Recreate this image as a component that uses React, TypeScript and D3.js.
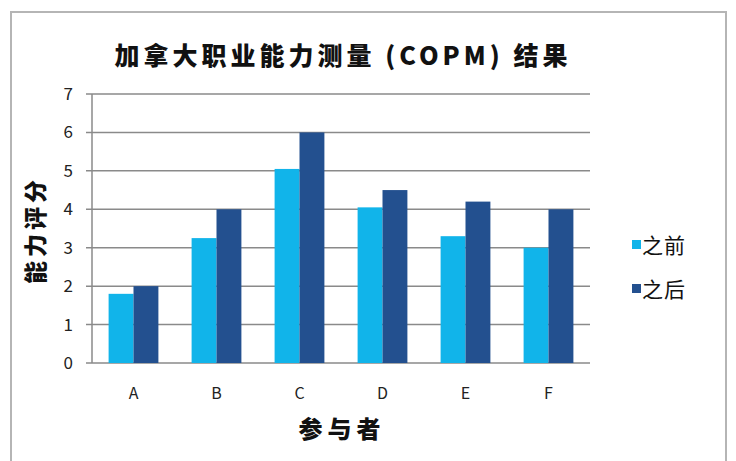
import React from "react";
import * as d3 from "d3";

const categories = ["A", "B", "C", "D", "E", "F"];
const seriesNames = ["之前", "之后"];
const before = [1.8, 3.25, 5.05, 4.05, 3.3, 3.0];
const after = [2.0, 4.0, 6.0, 4.5, 4.2, 4.0];
const yTicks = [0, 1, 2, 3, 4, 5, 6, 7];
const colors = ["#11b4ea", "#23508f"];

export default function App() {
  const W = 736, H = 461;
  const left = 92, right = 590, top = 94, bottom = 363;
  const x = d3.scaleBand<string>().domain(categories).range([left, right]).paddingInner(0.4).paddingOuter(0.2);
  const xs = d3.scaleBand<string>().domain(seriesNames).range([0, x.bandwidth()]);
  const y = d3.scaleLinear().domain([0, 7]).range([bottom, top]);
  const font = "'Noto Sans CJK SC', 'Noto Sans', sans-serif";
  const series = [before, after];
  return (
    <svg width={W} height={H} style={{ position: "absolute", left: 0, top: 0 }} fontFamily={font}>
      <rect x={0} y={0} width={W} height={H} fill="#fff" />
      <rect x={11} y={12} width={715} height={460} fill="#fff" stroke="#b5b5b5" strokeWidth={2} />
      <text x={343} y={65} textAnchor="middle" fontSize={25} fontWeight="900" letterSpacing={4} fill="#111">加拿大职业能力测量 (COPM) 结果</text>
      {yTicks.map((t) => (
        <g key={t}>
          <line x1={left - 6} x2={right} y1={y(t)} y2={y(t)} stroke="#8a8a8a" strokeWidth={1.5} />
          <text x={73} y={y(t) + 6} textAnchor="end" fontSize={17} fill="#222">{t}</text>
        </g>
      ))}
      <line x1={left} x2={left} y1={top} y2={bottom} stroke="#8a8a8a" strokeWidth={1.5} />
      {categories.map((c, i) => (
        <g key={c}>
          {series.map((s, j) => (
            <rect key={j} x={(x(c) as number) + (xs(seriesNames[j]) as number)} y={y(s[i])} width={xs.bandwidth()} height={bottom - y(s[i])} fill={colors[j]} />
          ))}
          <text x={(x(c) as number) + x.bandwidth() / 2} y={399} textAnchor="middle" fontSize={16} fill="#222">{c}</text>
        </g>
      ))}
      <text x={342} y={438} textAnchor="middle" fontSize={24} fontWeight="900" letterSpacing={5} fill="#111">参与者</text>
      <text transform={`translate(44,230) rotate(-90)`} textAnchor="middle" fontSize={23} fontWeight="900" letterSpacing={4} fill="#111">能力评分</text>
      {seriesNames.map((n, j) => (
        <g key={n}>
          <rect x={632} y={240 + j * 44} width={9} height={9} fill={colors[j]} />
          <text x={642} y={253 + j * 44} fontSize={21} letterSpacing={1} fill="#111">{n}</text>
        </g>
      ))}
    </svg>
  );
}
